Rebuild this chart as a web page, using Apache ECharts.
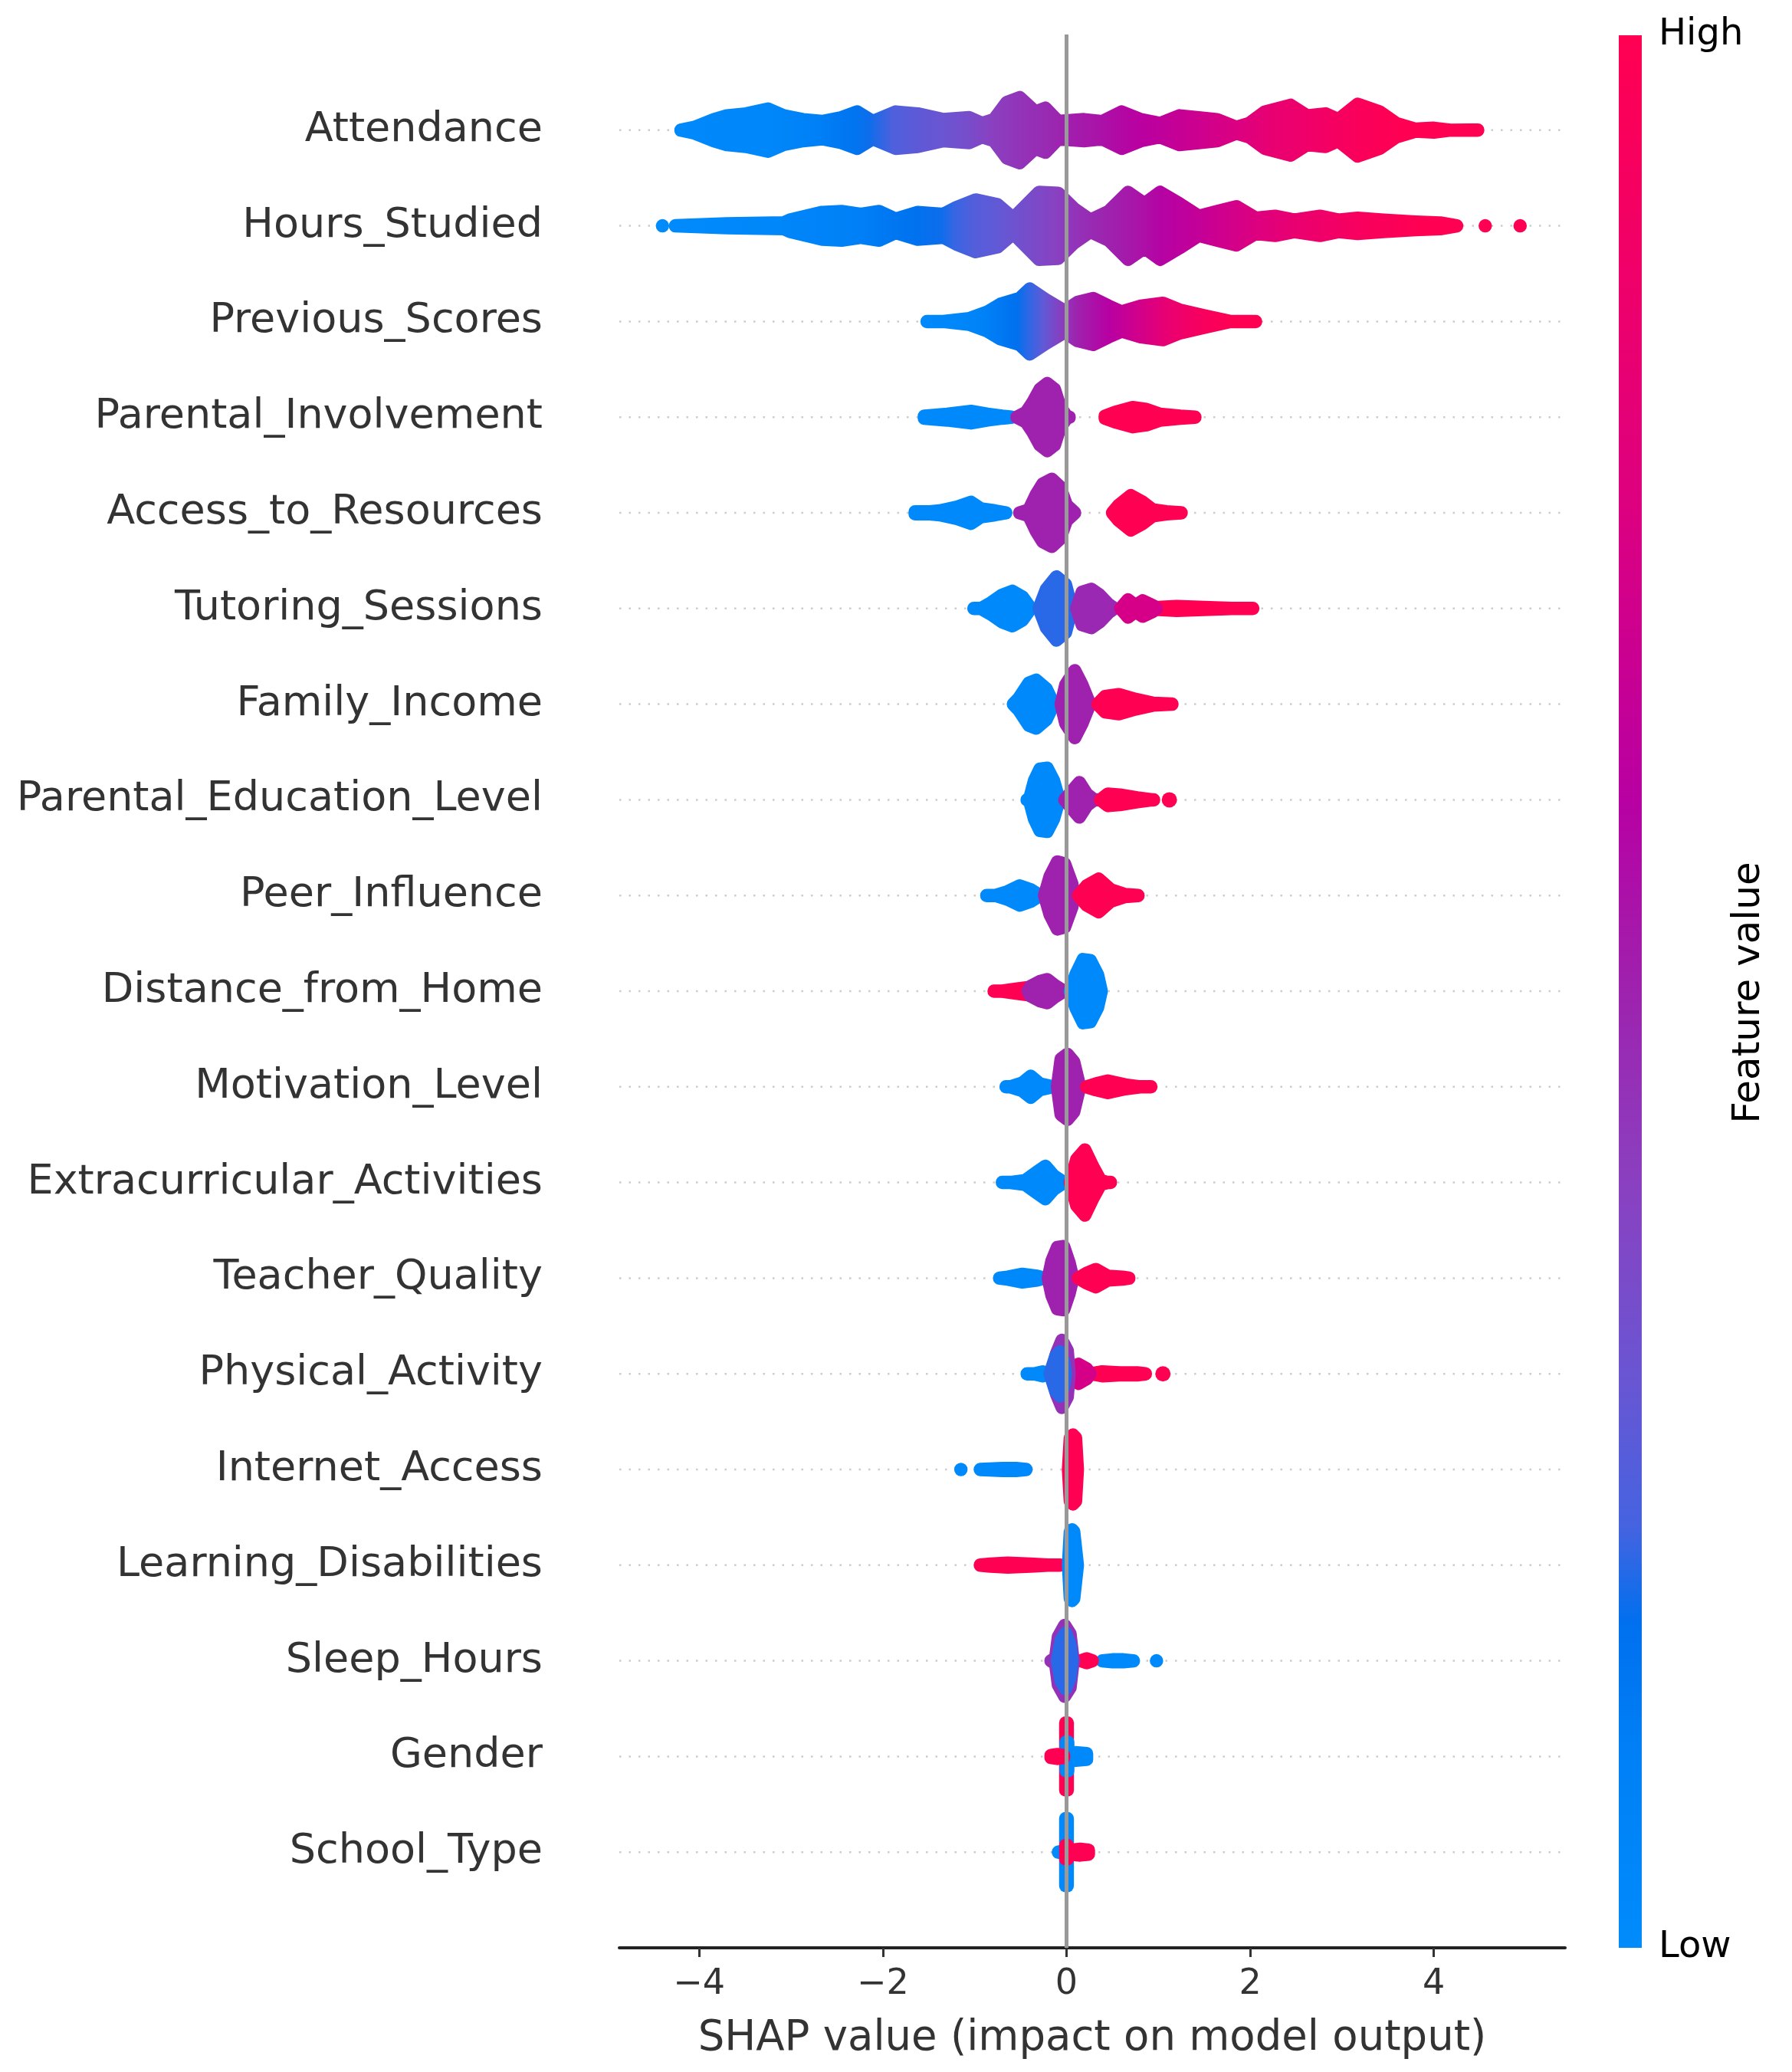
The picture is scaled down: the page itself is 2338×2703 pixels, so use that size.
<!DOCTYPE html>
<html>
<head>
<meta charset="utf-8">
<title>SHAP summary</title>
<script src="https://cdn.jsdelivr.net/npm/echarts@6.0.0/dist/echarts.min.js"></script>
<style>
html, body { margin: 0; padding: 0; background: #fff; }
#show { width: 2338px; height: 2703px; }
</style>
</head>
<body>
<div id="show"></div>
<script>
// features, top to bottom
var features = ['Attendance', 'Hours_Studied', 'Previous_Scores', 'Parental_Involvement',
	'Access_to_Resources', 'Tutoring_Sessions', 'Family_Income', 'Parental_Education_Level',
	'Peer_Influence', 'Distance_from_Home', 'Motivation_Level', 'Extracurricular_Activities',
	'Teacher_Quality', 'Physical_Activity', 'Internet_Access', 'Learning_Disabilities',
	'Sleep_Hours', 'Gender', 'School_Type'];

var xTicks = [-4, -2, 0, 2, 4];

// colour map of the feature value (0 = low, 1 = high)
var cmapPos = [0, 0.1, 0.17, 0.22, 0.3, 0.4, 0.5, 0.6, 0.75, 0.88, 1];
var cmapColors = ['#008bfb', '#0080f6', '#0070ee', '#4563e0', '#6a55d2', '#8a40c0',
	'#9e22ae', '#b800a2', '#dc0080', '#f00068', '#ff0052'];

// each feature: list of clusters, a cluster is [shap value, half spread (rows), feature value]
var attendance = [
	[[-4.20,0.07,0.02],[-4.05,0.10,0.02],[-3.84,0.18,0.03],[-3.70,0.22,0.03],[-3.49,0.24,0.04],
	 [-3.25,0.29,0.04],[-3.08,0.22,0.05],[-2.87,0.18,0.07],[-2.66,0.16,0.10],[-2.45,0.20,0.13],
	 [-2.28,0.26,0.15],[-2.11,0.16,0.18],[-1.86,0.26,0.24],[-1.62,0.24,0.27],[-1.34,0.18,0.30],
	 [-1.06,0.20,0.34],[-0.92,0.14,0.37],[-0.79,0.18,0.40],[-0.65,0.36,0.42],[-0.51,0.41,0.44],
	 [-0.34,0.26,0.46],[-0.23,0.30,0.47],[-0.09,0.16,0.49],[0.19,0.18,0.53],[0.39,0.16,0.55],
	 [0.60,0.26,0.58],[0.81,0.18,0.61],[1.02,0.14,0.63],[1.23,0.22,0.66],[1.44,0.20,0.69],
	 [1.64,0.18,0.72],[1.85,0.10,0.75],[1.99,0.14,0.78],[2.16,0.26,0.82],[2.44,0.33,0.86],
	 [2.62,0.22,0.88],[2.82,0.24,0.91],[2.96,0.18,0.93],[3.17,0.34,0.96],[3.41,0.26,0.98],
	 [3.59,0.14,1],[3.80,0.08,1],[4.00,0.09,1],[4.18,0.04,1],[4.39,0.07,1],[4.48,0.07,1]]
];
var hoursStudied = [
	[[-4.40,0.07,0]],
	[[-4.26,0.07,0.01],[-3.70,0.09,0.02],[-3.08,0.10,0.04],[-3.01,0.13,0.05],[-2.66,0.21,0.07],
	 [-2.45,0.22,0.08],[-2.24,0.19,0.10],[-2.04,0.22,0.12],[-1.86,0.14,0.14],[-1.62,0.21,0.16],
	 [-1.34,0.19,0.18],[-1.20,0.26,0.21],[-0.99,0.34,0.25],[-0.75,0.29,0.28],[-0.58,0.15,0.31],
	 [-0.30,0.42,0.36],[-0.09,0.41,0.40],[0.08,0.25,0.44],[0.26,0.13,0.47],[0.46,0.22,0.50],
	 [0.67,0.42,0.53],[0.85,0.30,0.56],[1.02,0.42,0.59],[1.23,0.30,0.62],[1.44,0.17,0.65],
	 [1.64,0.22,0.69],[1.85,0.27,0.72],[2.06,0.15,0.76],[2.27,0.17,0.80],[2.48,0.13,0.84],
	 [2.76,0.17,0.88],[2.96,0.13,0.91],[3.17,0.15,0.94],[3.45,0.13,0.97],[3.80,0.11,1],
	 [4.07,0.10,1],[4.25,0.07,1]],
	[[4.56,0.07,1]],
	[[4.94,0.07,1]]
];
var previousScores = [
	[[-1.52,0.07,0.02],[-1.34,0.07,0.03],[-1.06,0.10,0.05],[-0.86,0.17,0.08],[-0.72,0.25,0.12],
	 [-0.51,0.31,0.17],[-0.40,0.41,0.20],[-0.23,0.30,0.28],[-0.02,0.18,0.42],[0.12,0.27,0.50],
	 [0.29,0.31,0.55],[0.46,0.23,0.60],[0.60,0.17,0.65],[0.81,0.23,0.72],[1.05,0.26,0.82],
	 [1.23,0.19,0.88],[1.50,0.13,0.95],[1.78,0.07,1],[2.06,0.07,1]]
];
var parentalInvolvement = [
	[[-1.55,0.08,0.02],[-1.30,0.10,0.02],[-1.04,0.13,0.02],[-0.86,0.10,0.02],[-0.70,0.08,0.02],[-0.60,0.07,0.02]],
	[[-0.54,0.07,0.5],[-0.44,0.12,0.5],[-0.37,0.22,0.5],[-0.29,0.36,0.5],[-0.21,0.42,0.5],
	 [-0.13,0.36,0.5],[-0.07,0.18,0.5],[0.0,0.08,0.5],[0.03,0.07,0.5]],
	[[0.42,0.08,1],[0.53,0.12,1],[0.72,0.17,1],[0.87,0.15,1],[1.02,0.10,1],[1.24,0.08,1],[1.40,0.07,1]]
];
var accessToResources = [
	[[-1.65,0.08,0.02],[-1.49,0.08,0.02],[-1.38,0.09,0.02],[-1.19,0.13,0.02],[-1.04,0.18,0.02],
	 [-0.93,0.11,0.02],[-0.78,0.09,0.02],[-0.66,0.07,0.02]],
	[[-0.51,0.07,0.5],[-0.41,0.10,0.5],[-0.33,0.26,0.5],[-0.26,0.37,0.5],[-0.16,0.42,0.5],
	 [-0.07,0.34,0.5],[0.0,0.15,0.5],[0.09,0.07,0.5]],
	[[0.50,0.07,1],[0.57,0.15,1],[0.70,0.25,1],[0.83,0.18,1],[0.94,0.10,1],[1.09,0.08,1],[1.25,0.07,1]]
];
var tutoringSessions = [
	[[-1.01,0.07,0.02],[-0.93,0.07,0.02],[-0.82,0.13,0.02],[-0.70,0.21,0.02],[-0.59,0.25,0.02],
	 [-0.48,0.19,0.02],[-0.39,0.07,0.02]],
	[[-0.30,0.07,0.2],[-0.22,0.27,0.2],[-0.11,0.40,0.2],[-0.01,0.32,0.2],[0.05,0.10,0.2]],
	[[0.11,0.07,0.48],[0.17,0.24,0.48],[0.27,0.27,0.48],[0.36,0.21,0.48],[0.46,0.11,0.48],[0.52,0.07,0.48]],
	[[0.78,0.07,1],[1.0,0.08,1],[1.2,0.09,1],[1.5,0.08,1],[1.8,0.07,1],[2.03,0.07,1]],
	[[0.59,0.07,0.72],[0.67,0.16,0.72],[0.75,0.10,0.72],[0.83,0.15,0.72],[0.94,0.10,0.72],[0.98,0.07,0.72]]
];
var familyIncome = [
	[[-0.58,0.07,0.02],[-0.52,0.13,0.02],[-0.41,0.29,0.02],[-0.33,0.32,0.02],[-0.22,0.23,0.02],[-0.14,0.07,0.02]],
	[[-0.06,0.07,0.5],[-0.01,0.27,0.5],[0.09,0.42,0.5],[0.17,0.27,0.5],[0.25,0.08,0.5],[0.27,0.07,0.5]],
	[[0.34,0.07,1],[0.42,0.15,1],[0.57,0.17,1],[0.75,0.12,1],[0.94,0.08,1],[1.15,0.07,1]]
];
var parentalEducationLevel = [
	[[-0.43,0.07,0.02],[-0.40,0.09,0.02],[-0.35,0.27,0.02],[-0.29,0.39,0.02],[-0.21,0.40,0.02],
	 [-0.14,0.27,0.02],[-0.08,0.07,0.02]],
	[[-0.02,0.07,0.5],[0.05,0.15,0.5],[0.14,0.25,0.5],[0.22,0.13,0.5],[0.30,0.07,0.5],[0.33,0.07,0.5]],
	[[0.37,0.07,1],[0.45,0.13,1],[0.58,0.12,1],[0.77,0.09,1],[0.93,0.07,1],[0.95,0.07,1]],
	[[1.12,0.08,1]]
];
var peerInfluence = [
	[[-0.87,0.07,0.02],[-0.77,0.07,0.02],[-0.64,0.11,0.02],[-0.51,0.17,0.02],[-0.39,0.13,0.02],[-0.29,0.07,0.02]],
	[[-0.24,0.07,0.5],[-0.18,0.27,0.5],[-0.10,0.42,0.5],[-0.02,0.40,0.5],[0.06,0.19,0.5],[0.08,0.07,0.5]],
	[[0.13,0.07,1],[0.22,0.17,1],[0.35,0.24,1],[0.48,0.13,1],[0.64,0.08,1],[0.78,0.07,1]]
];
var distanceFromHome = [
	[[-0.79,0.07,1],[-0.70,0.07,1],[-0.55,0.09,1],[-0.39,0.11,1],[-0.26,0.08,1],[-0.08,0.07,1]],
	[[-0.42,0.07,0.5],[-0.39,0.12,0.5],[-0.29,0.17,0.5],[-0.21,0.19,0.5],[-0.13,0.13,0.5],[-0.03,0.07,0.5],[0.0,0.07,0.5]],
	[[0.04,0.07,0.02],[0.10,0.24,0.02],[0.18,0.40,0.02],[0.26,0.39,0.02],[0.34,0.24,0.02],[0.38,0.07,0.02]]
];
var motivationLevel = [
	[[-0.66,0.07,0.02],[-0.61,0.07,0.02],[-0.48,0.11,0.02],[-0.39,0.18,0.02],[-0.29,0.10,0.02],[-0.15,0.07,0.02]],
	[[-0.10,0.07,0.5],[-0.06,0.36,0.5],[0.01,0.41,0.5],[0.08,0.33,0.5],[0.14,0.09,0.5],[0.16,0.07,0.5]],
	[[0.22,0.07,1],[0.32,0.10,1],[0.45,0.13,1],[0.64,0.09,1],[0.80,0.07,1],[0.90,0.07,1],[0.92,0.07,1]]
];
var extracurricularActivities = [
	[[-0.70,0.07,0.02],[-0.61,0.07,0.02],[-0.45,0.09,0.02],[-0.32,0.18,0.02],[-0.23,0.24,0.02],
	 [-0.14,0.14,0.02],[-0.03,0.07,0.02]],
	[[0.04,0.07,1],[0.11,0.31,1],[0.20,0.41,1],[0.29,0.23,1],[0.37,0.09,1],[0.45,0.07,1],[0.48,0.07,1]]
];
var teacherQuality = [
	[[-0.73,0.07,0.02],[-0.64,0.08,0.02],[-0.48,0.11,0.02],[-0.32,0.09,0.02],[-0.24,0.07,0.02]],
	[[-0.20,0.07,0.5],[-0.16,0.25,0.5],[-0.10,0.39,0.5],[-0.03,0.40,0.5],[0.03,0.23,0.5],[0.07,0.07,0.5]],
	[[0.13,0.07,1],[0.22,0.12,1],[0.32,0.16,1],[0.45,0.09,1],[0.61,0.08,1],[0.68,0.07,1]]
];
var physicalActivity = [
	[[-0.43,0.07,0.02],[-0.35,0.07,0.02],[-0.26,0.09,0.02],[-0.18,0.07,0.02]],
	[[0.27,0.07,1],[0.39,0.09,1],[0.58,0.08,1],[0.77,0.08,1],[0.86,0.07,1]],
	[[1.05,0.08,1]],
	[[0.05,0.07,0.72],[0.13,0.17,0.72],[0.22,0.12,0.72],[0.26,0.07,0.72]],
	[[-0.16,0.07,0.45],[-0.11,0.28,0.45],[-0.05,0.42,0.45],[0.01,0.31,0.45],[0.03,0.07,0.45]],
	[[-0.18,0.07,0.2],[-0.12,0.25,0.2],[-0.07,0.30,0.2],[-0.03,0.20,0.2],[-0.01,0.07,0.2]]
];
var internetAccess = [
	[[-1.15,0.07,0.02]],
	[[-0.94,0.07,0.02],[-0.70,0.08,0.02],[-0.55,0.08,0.02],[-0.44,0.07,0.02]],
	[[0.02,0.07,1],[0.04,0.40,1],[0.07,0.43,1],[0.10,0.40,1],[0.12,0.07,1]]
];
var learningDisabilities = [
	[[-0.94,0.07,1],[-0.83,0.08,1],[-0.64,0.09,1],[-0.39,0.08,1],[-0.20,0.07,1],[-0.07,0.07,1]],
	[[0.02,0.07,0.02],[0.04,0.42,0.02],[0.06,0.44,0.02],[0.08,0.42,0.02],[0.12,0.07,0.02]]
];
var sleepHours = [
	[[0.39,0.07,0.02],[0.50,0.08,0.02],[0.62,0.08,0.02],[0.73,0.07,0.02]],
	[[0.98,0.07,0.02]],
	[[0.16,0.07,1],[0.22,0.09,1],[0.28,0.07,1]],
	[[-0.17,0.07,0.45],[-0.12,0.10,0.45],[-0.09,0.32,0.45],[-0.02,0.44,0.45],[0.04,0.35,0.45],[0.07,0.10,0.45],[0.08,0.07,0.45]],
	[[-0.10,0.07,0.2],[-0.06,0.28,0.2],[-0.01,0.36,0.2],[0.04,0.24,0.2],[0.06,0.07,0.2]]
];
var gender = [
	[[-0.01,0.42,1],[0.01,0.42,1]],
	[[-0.005,0.22,0.02],[0.015,0.22,0.02]],
	[[0.02,0.10,0.02],[0.10,0.11,0.02],[0.22,0.10,0.02]],
	[[-0.17,0.08,1],[-0.10,0.09,1],[-0.03,0.08,1]]
];
var schoolType = [
	[[-0.01,0.42,0.02],[0.01,0.42,0.02]],
	[[0.05,0.09,1],[0.15,0.10,1],[0.24,0.09,1]],
	[[-0.09,0.07,0.02],[-0.02,0.08,0.02]],
	[[-0.01,0.14,1],[0.01,0.14,1]]
];

var swarms = [attendance, hoursStudied, previousScores, parentalInvolvement, accessToResources,
	tutoringSessions, familyIncome, parentalEducationLevel, peerInfluence, distanceFromHome,
	motivationLevel, extracurricularActivities, teacherQuality, physicalActivity, internetAccess,
	learningDisabilities, sleepHours, gender, schoolType];

var FONT = 'DejaVu Sans';
var DOT_R = 8.5;
var X_MIN = -4.87, X_MAX = 5.43;
var nRows = features.length;

function hexToRgb(h) {
	return [parseInt(h.substr(1, 2), 16), parseInt(h.substr(3, 2), 16), parseInt(h.substr(5, 2), 16)];
}
function cmap(v) {
	v = Math.max(0, Math.min(1, v));
	for (var i = 1; i < cmapPos.length; i++) {
		if (v <= cmapPos[i]) {
			var t = (v - cmapPos[i - 1]) / (cmapPos[i] - cmapPos[i - 1]);
			var a = hexToRgb(cmapColors[i - 1]), b = hexToRgb(cmapColors[i]);
			return 'rgb(' + Math.round(a[0] + (b[0] - a[0]) * t) + ',' +
				Math.round(a[1] + (b[1] - a[1]) * t) + ',' + Math.round(a[2] + (b[2] - a[2]) * t) + ')';
		}
	}
	return cmapColors[cmapColors.length - 1];
}

// one data item per cluster: [row, feature index, cluster index]
var clusterData = [];
var rowData = [];
var rowTicks = [];
for (var i = 0; i < nRows; i++) {
	var row = nRows - 1 - i;
	rowData.push([0, row]);
	rowTicks.push(row);
	for (var j = 0; j < swarms[i].length; j++) {
		clusterData.push([row, i, j]);
	}
}

function renderCluster(params, api) {
	var pts = swarms[api.value(1)][api.value(2)];
	var row = api.value(0);
	var rowPx = api.size([0, 1])[1];
	if (pts.length === 1) {
		var c = api.coord([pts[0][0], row]);
		return {
			type: 'circle',
			shape: { cx: c[0], cy: c[1], r: Math.max(pts[0][1] * rowPx, DOT_R) },
			style: { fill: cmap(pts[0][2]) }
		};
	}
	var top = [], bottom = [], stops = [];
	var x0 = api.coord([pts[0][0], row])[0];
	var x1 = api.coord([pts[pts.length - 1][0], row])[0];
	for (var k = 0; k < pts.length; k++) {
		var p = api.coord([pts[k][0], row]);
		var h = Math.max(pts[k][1] * rowPx - DOT_R, 0);
		top.push([p[0], p[1] - h]);
		bottom.unshift([p[0], p[1] + h]);
		stops.push({ offset: (p[0] - x0) / (x1 - x0), color: cmap(pts[k][2]) });
	}
	var grad = new echarts.graphic.LinearGradient(0, 0, 1, 0, stops);
	return {
		type: 'polygon',
		shape: { points: top.concat(bottom) },
		style: { fill: grad, stroke: grad, lineWidth: DOT_R * 2, lineJoin: 'round', lineCap: 'round' }
	};
}

function renderRowLine(params, api) {
	var a = api.coord([X_MIN, api.value(1)]);
	var b = api.coord([X_MAX, api.value(1)]);
	return {
		type: 'line',
		shape: { x1: a[0], y1: a[1], x2: b[0], y2: b[1] },
		style: { stroke: '#cccccc', lineWidth: 2.5, lineDash: [2.5, 10] }
	};
}

var barStops = [];
for (var s = 0; s < cmapPos.length; s++) {
	barStops.push({ offset: 1 - cmapPos[cmapPos.length - 1 - s], color: cmapColors[cmapPos.length - 1 - s] });
}

var myEchart = echarts.init(document.getElementById('show'));

var option = {
	backgroundColor: '#ffffff',
	animation: false,
	grid: { left: 808, right: 296, top: 45, bottom: 162 },
	xAxis: {
		type: 'value',
		min: X_MIN,
		max: X_MAX,
		axisLine: { show: true, onZero: false, lineStyle: { color: '#222222', width: 4 } },
		axisTick: { show: true, customValues: xTicks, length: 12, lineStyle: { color: '#333333', width: 3 } },
		axisLabel: {
			customValues: xTicks,
			formatter: function (v) { return String(v).replace('-', '\u2212'); },
			fontSize: 46, color: '#333333', fontFamily: FONT, margin: 25
		},
		splitLine: { show: false },
		name: 'SHAP value (impact on model output)',
		nameLocation: 'middle',
		nameGap: 91,
		nameTextStyle: { fontSize: 54.5, color: '#333333', fontFamily: FONT }
	},
	yAxis: {
		type: 'value',
		min: -1,
		max: nRows,
		axisLine: { show: false },
		axisTick: { show: false },
		splitLine: { show: false },
		axisLabel: {
			customValues: rowTicks,
			formatter: function (v) { return features[nRows - 1 - v]; },
			fontSize: 54, color: '#333333', fontFamily: FONT, margin: 100,
			padding: [7, 0, 0, 0]
		}
	},
	graphic: [
		{
			type: 'rect',
			shape: { x: 2112, y: 46, width: 30, height: 2495 },
			style: { fill: new echarts.graphic.LinearGradient(0, 0, 0, 1, barStops) }
		},
		{
			type: 'text', x: 2164, y: 46,
			style: { text: 'High', fontSize: 48, fontFamily: FONT, fill: '#000000', verticalAlign: 'middle' }
		},
		{
			type: 'text', x: 2164, y: 2541,
			style: { text: 'Low', fontSize: 48, fontFamily: FONT, fill: '#000000', verticalAlign: 'middle' }
		},
		{
			type: 'text', x: 2282, y: 1295, rotation: Math.PI / 2,
			style: { text: 'Feature value', fontSize: 50, fontFamily: FONT, fill: '#000000', align: 'center', verticalAlign: 'middle' }
		}
	],
	series: [
		{
			type: 'custom',
			name: 'rows',
			z: 1,
			silent: true,
			renderItem: renderRowLine,
			data: rowData,
			markLine: {
				silent: true,
				symbol: ['none', 'none'],
				label: { show: false },
				lineStyle: { color: '#999999', width: 5, type: 'solid' },
				data: [{ xAxis: 0 }]
			}
		},
		{
			type: 'custom',
			name: 'shap',
			z: 3,
			silent: true,
			renderItem: renderCluster,
			data: clusterData
		}
	]
};

myEchart.setOption(option);
</script>
</body>
</html>
